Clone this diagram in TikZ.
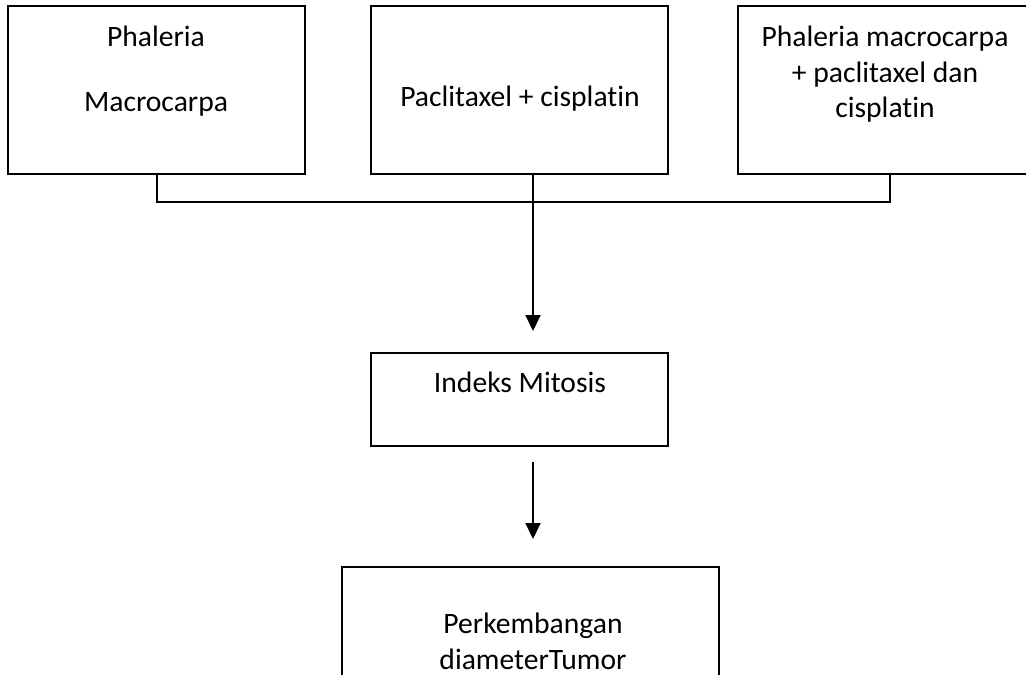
\documentclass[tikz,border=0pt]{standalone}
\usepackage{fontspec}
\setmainfont[Ligatures=NoCommon]{Carlito}
\usetikzlibrary{arrows.meta,positioning}

\tikzset{
  box/.style={draw,line width=1pt,minimum width=148.5pt,minimum height=84pt,inner sep=0pt},
  boxtext/.style={align=center,inner sep=0pt,font=\fontsize{14.8}{17.75}\selectfont},
  link/.style={line width=1pt},
  flow/.style={link,-{Triangle[width=7.5pt,length=8pt]}}
}

\begin{document}
\begin{tikzpicture}[x=0.5pt,y=-0.5pt]
  \useasboundingbox (0,0) rectangle (1026,674);
  \clip (0,0) rectangle (1026,674);

  % treatment groups
  \node[box] (phaleria) at (156.5,90) {};
  \node[box] (paclitaxel) at (519.5,90) {};
  \node[box,minimum width=147pt] (combined) at (885,90) {};
  \node[boxtext,anchor=north] (phaleriatext) at (156,26)
    {Phaleria\\[14.75pt]Macrocarpa};
  \node[boxtext,anchor=base] (paclitaxeltext) at (520,106)
    {Paclitaxel + cisplatin};
  \node[boxtext,anchor=north] (combinedtext) at (885,26)
    {Phaleria macrocarpa\\+ paclitaxel dan\\cisplatin};

  % outcomes
  \node[box,minimum height=46.5pt] (mitosis) at (519.5,399.5) {};
  \node[boxtext,anchor=base] (mitosistext) at (520,392) {Indeks Mitosis};
  \node[box,minimum width=188.5pt,minimum height=66.5pt] (tumor) at (530.5,633.5) {};
  \node[boxtext,anchor=north] (tumortext) at (533,613)
    {Perkembangan\\diameterTumor};

  % connectors
  \coordinate (join) at (533,202);
  \coordinate (tip1) at (533,331);
  \coordinate (tail2) at (533,462);
  \coordinate (tip2) at (533,539);
  \draw[link] (phaleria.south) |- (join) -| ([xshift=2.5pt]combined.south);
  \draw[link] (join |- paclitaxel.south) -- (join);
  \draw[flow] (join) -- (tip1);
  \draw[flow] (tail2) -- (tip2);
\end{tikzpicture}
\end{document}
